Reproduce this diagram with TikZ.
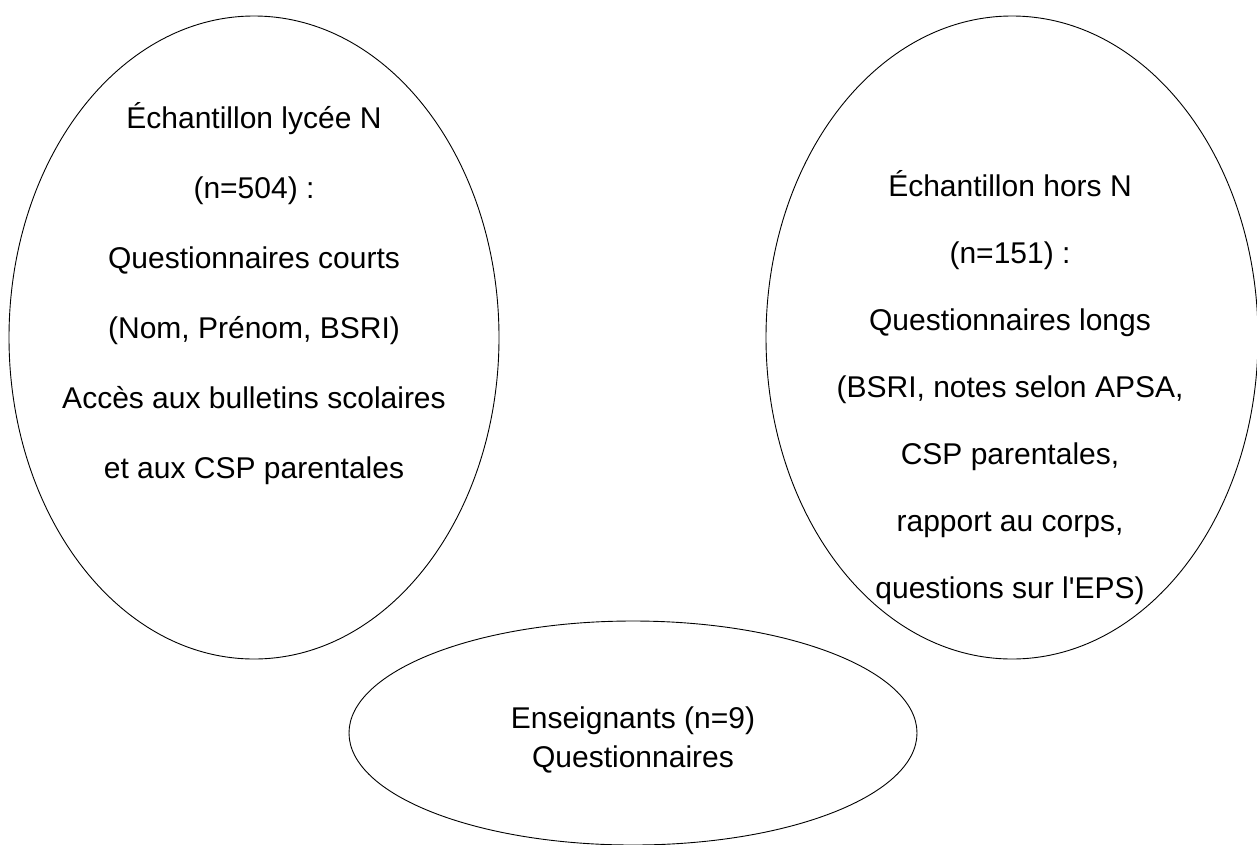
\documentclass[tikz,border=0pt]{standalone}
\usepackage{fontspec}
\setmainfont{Liberation Sans}
\usetikzlibrary{shapes.geometric}
\begin{document}
\begin{tikzpicture}[x=1pt,y=-1pt,
  oval/.style={draw=black, line width=0.9pt, ellipse, inner sep=0pt},
  txt/.style={anchor=base, inner sep=0pt, font=\fontsize{30pt}{36pt}\selectfont}]
\useasboundingbox (0,0) rectangle (1257,844);
% ellipses
\node[oval, minimum width=490pt, minimum height=643pt] (lyc) at (254,337.5) {};
\node[oval, minimum width=492pt, minimum height=643pt] (hors) at (1012,337.5) {};
\node[oval, minimum width=568pt, minimum height=224pt] (ens) at (633,733) {};
% left texts
\node[txt] (l1) at (254,128) {Échantillon lycée N};
\node[txt] (l2) at (254,198) {(n=504) :};
\node[txt] (l3) at (254,268) {Questionnaires courts};
\node[txt] (l4) at (254,338) {(Nom, Prénom, BSRI)};
\node[txt] (l5) at (254,408) {Accès aux bulletins scolaires};
\node[txt] (l6) at (254,478) {et aux CSP parentales};
% right texts
\node[txt] (r1) at (1010,196) {Échantillon hors N};
\node[txt] (r2) at (1010,263) {(n=151) :};
\node[txt] (r3) at (1010,330) {Questionnaires longs};
\node[txt] (r4) at (1010,397) {(BSRI, notes selon APSA,};
\node[txt] (r5) at (1010,464) {CSP parentales,};
\node[txt] (r6) at (1010,531) {rapport au corps,};
\node[txt] (r7) at (1010,598) {questions sur l\textquotesingle EPS)};
% bottom texts
\node[txt] (b1) at (633,728) {Enseignants (n=9)};
\node[txt] (b2) at (633,767) {Questionnaires};
\end{tikzpicture}
\end{document}
